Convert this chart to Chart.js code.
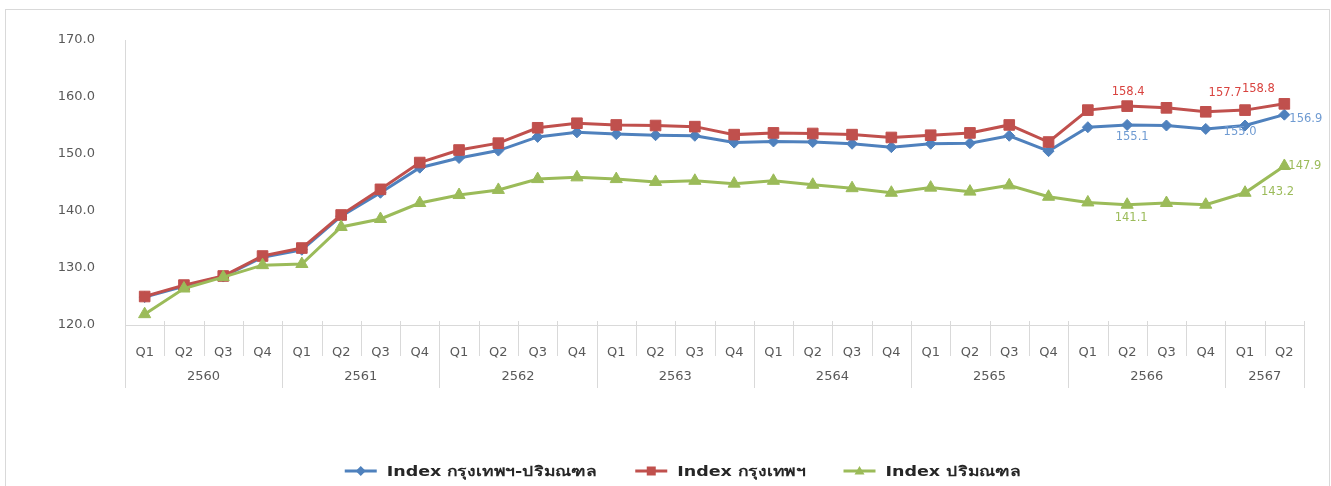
<!DOCTYPE html>
<html>
<head>
<meta charset="utf-8">
<title>Index</title>
<script src="https://cdn.jsdelivr.net/npm/chart.js@4.4.1/dist/chart.umd.min.js"></script>
<style>
    html, body { margin: 0; padding: 0; background: #fff; }
    #wrap { position: relative; width: 1331px; height: 486px; overflow: hidden; }
</style>
</head>
<body>
<div id="wrap"><canvas id="indexChart" width="1331" height="486"></canvas></div>
<script>
// quarters and year groups on the category axis
const years = ['2560', '2561', '2562', '2563', '2564', '2565', '2566', '2567'];
const quartersPerYear = [4, 4, 4, 4, 4, 4, 4, 2];
const quarters = [
    'Q1', 'Q2', 'Q3', 'Q4', 'Q1', 'Q2', 'Q3', 'Q4', 'Q1', 'Q2', 'Q3', 'Q4',
    'Q1', 'Q2', 'Q3', 'Q4', 'Q1', 'Q2', 'Q3', 'Q4', 'Q1', 'Q2', 'Q3', 'Q4',
    'Q1', 'Q2', 'Q3', 'Q4', 'Q1', 'Q2',
];
const yTicks = [120, 130, 140, 150, 160, 170];

const indexBkkVicinity = [
    124.9, 126.8, 128.5, 131.9, 133.2, 139.1, 143.2, 147.6, 149.3, 150.6,
    153.0, 153.8, 153.5, 153.3, 153.2, 152.0, 152.2, 152.1, 151.8, 151.2,
    151.8, 151.9, 153.2, 150.5, 154.7, 155.1, 155.0, 154.4, 155.0, 156.9,
];
const indexBkk = [
    125.0, 127.0, 128.6, 132.1, 133.5, 139.3, 143.8, 148.5, 150.7, 151.9,
    154.6, 155.4, 155.1, 155.0, 154.8, 153.4, 153.7, 153.6, 153.4, 152.9,
    153.3, 153.7, 155.1, 152.1, 157.7, 158.4, 158.1, 157.4, 157.7, 158.8,
];
const indexVicinity = [
    121.9, 126.4, 128.4, 130.5, 130.7, 137.2, 138.6, 141.4, 142.8, 143.7,
    145.6, 145.9, 145.6, 145.1, 145.3, 144.8, 145.3, 144.6, 144.0, 143.2,
    144.1, 143.4, 144.5, 142.5, 141.5, 141.1, 141.4, 141.1, 143.2, 147.9,
];
// points that carry a value label
const labeledPoints = [25, 28, 29];

const FONT = '"DejaVu Sans", "Liberation Sans", sans-serif';
const AXIS_GREY = '#D9D9D9';
const TEXT_GREY = '#595959';

// label placement per series, keyed by point index: dx/dy from the point, text alignment
const LABEL_STYLE = [
    { color: '#6F9BD2', at: {
        25: { dx: 5, dy: 12, align: 'center' },
        28: { dx: -5, dy: 7, align: 'center' },
        29: { dx: 5, dy: 4, align: 'left' },
    } },
    { color: '#D9433F', at: {
        25: { dx: 1, dy: -14, align: 'center' },
        28: { dx: -20, dy: -17, align: 'center' },
        29: { dx: -26, dy: -15, align: 'center' },
    } },
    { color: '#9BBB59', at: {
        25: { dx: 4, dy: 13, align: 'center' },
        28: { dx: 16, dy: -1, align: 'left' },
        29: { dx: 4, dy: 0, align: 'left' },
    } },
];

function drawMarker(ctx, style, x, y, color, r) {
    ctx.fillStyle = color;
    ctx.beginPath();
    if (style === 'rect') {
        ctx.rect(x - r, y - r, 2 * r, 2 * r);
    } else if (style === 'rectRot') {
        ctx.moveTo(x, y - r);
        ctx.lineTo(x + r, y);
        ctx.lineTo(x, y + r);
        ctx.lineTo(x - r, y);
        ctx.closePath();
    } else {
        ctx.moveTo(x, y - r);
        ctx.lineTo(x + r, y + r * 0.7);
        ctx.lineTo(x - r, y + r * 0.7);
        ctx.closePath();
    }
    ctx.fill();
}

const framePlugin = {
    id: 'frame',
    beforeDraw(chart) {
        const ctx = chart.ctx;
        ctx.save();
        ctx.strokeStyle = AXIS_GREY;
        ctx.lineWidth = 1;
        ctx.strokeRect(5.5, 9.5, 1324, 490);
        ctx.restore();
    },
};

// separators between quarters and years, plus the year row
const yearAxisPlugin = {
    id: 'yearAxis',
    afterDraw(chart) {
        const x = chart.scales.x;
        const ctx = chart.ctx;
        const bottom = chart.chartArea.bottom;
        const step = x.getPixelForValue(1) - x.getPixelForValue(0);

        const yearStarts = [0];
        quartersPerYear.forEach((n, i) => yearStarts.push(yearStarts[i] + n));

        ctx.save();
        ctx.strokeStyle = AXIS_GREY;
        ctx.lineWidth = 1;
        for (let b = 0; b <= quarters.length; b++) {
            const px = Math.round(x.getPixelForValue(b) - step / 2) + 0.5;
            const long = yearStarts.includes(b);
            ctx.beginPath();
            ctx.moveTo(px, bottom - 4);
            ctx.lineTo(px, bottom + (long ? 63 : 31));
            ctx.stroke();
        }

        ctx.fillStyle = TEXT_GREY;
        ctx.font = `13px ${FONT}`;
        ctx.textAlign = 'center';
        ctx.textBaseline = 'middle';
        years.forEach((year, i) => {
            const first = x.getPixelForValue(yearStarts[i]);
            const last = x.getPixelForValue(yearStarts[i + 1] - 1);
            ctx.fillText(year, (first + last) / 2, bottom + 52);
        });
        ctx.restore();
    },
};

const valueLabelPlugin = {
    id: 'valueLabels',
    afterDatasetsDraw(chart) {
        const ctx = chart.ctx;
        ctx.save();
        ctx.font = `11.5px ${FONT}`;
        ctx.textBaseline = 'middle';
        chart.data.datasets.forEach((ds, di) => {
            const meta = chart.getDatasetMeta(di);
            const style = LABEL_STYLE[di];
            labeledPoints.forEach((i) => {
                const pt = meta.data[i];
                const pos = style.at[i];
                ctx.fillStyle = style.color;
                ctx.textAlign = pos.align;
                ctx.fillText(ds.data[i].toFixed(1), pt.x + pos.dx, pt.y + pos.dy);
            });
        });
        ctx.restore();
    },
};

// legend row under the axis; text is drawn slightly widened
const legendPlugin = {
    id: 'bottomLegend',
    afterDraw(chart) {
        const ctx = chart.ctx;
        const y = 471;
        const symbolW = 32;
        const gap = 10;
        const spacing = 38;
        const stretch = 1.25;
        ctx.save();
        ctx.font = `bold 14px ${FONT}`;
        ctx.textBaseline = 'middle';
        ctx.textAlign = 'left';

        const items = chart.data.datasets.map((ds) => {
            const tw = ctx.measureText(ds.label).width * stretch;
            return { ds, tw, w: symbolW + gap + tw };
        });
        const total = items.reduce((s, it) => s + it.w, 0) + spacing * (items.length - 1);
        let x = 683 - total / 2;

        items.forEach(({ ds, w }) => {
            ctx.strokeStyle = ds.borderColor;
            ctx.lineWidth = 3;
            ctx.beginPath();
            ctx.moveTo(x, y);
            ctx.lineTo(x + symbolW, y);
            ctx.stroke();
            drawMarker(ctx, ds.pointStyle, x + symbolW / 2, y, ds.borderColor, ds.pointStyle === 'rect' ? 4.5 : 5);
            ctx.save();
            ctx.translate(x + symbolW + gap, y + 1);
            ctx.scale(stretch, 1);
            ctx.fillStyle = '#262626';
            ctx.fillText(ds.label, 0, 0);
            ctx.restore();
            x += w + spacing;
        });
        ctx.restore();
    },
};

function series(label, data, color, pointStyle, radius, order) {
    return {
        label, data, order, pointStyle,
        borderColor: color,
        backgroundColor: color,
        pointBackgroundColor: color,
        pointBorderColor: color,
        pointBorderWidth: 1,
        pointRadius: radius,
        borderWidth: 3,
        tension: 0,
    };
}

new Chart(document.getElementById('indexChart'), {
    type: 'line',
    data: {
        labels: quarters,
        datasets: [
            series('Index กรุงเทพฯ-ปริมณฑล', indexBkkVicinity, '#4F81BD', 'rectRot', 5.5, 3),
            series('Index กรุงเทพฯ', indexBkk, '#C0504D', 'rect', 7.5, 2),
            series('Index ปริมณฑล', indexVicinity, '#9BBB59', 'triangle', 7, 1),
        ],
    },
    options: {
        responsive: false,
        animation: false,
        devicePixelRatio: 1,
        layout: { padding: { top: 40, right: 27, bottom: 0, left: 0 } },
        plugins: {
            legend: { display: false },
            tooltip: { enabled: false },
        },
        scales: {
            x: {
                type: 'category',
                offset: true,
                grid: { display: false },
                border: { display: true, color: AXIS_GREY, width: 1 },
                ticks: {
                    color: TEXT_GREY,
                    font: { family: FONT, size: 13 },
                    padding: 12,
                    maxRotation: 0,
                    autoSkip: false,
                },
                afterFit(scale) { scale.height = 161; },
            },
            y: {
                min: 120,
                max: 170,
                grid: { display: false },
                border: { display: true, color: AXIS_GREY, width: 1 },
                ticks: {
                    color: TEXT_GREY,
                    font: { family: FONT, size: 13 },
                    padding: 22,
                    callback: (v) => Number(v).toFixed(1),
                },
                afterBuildTicks(scale) { scale.ticks = yTicks.map((v) => ({ value: v })); },
                afterFit(scale) { scale.width = 125; },
            },
        },
    },
    plugins: [framePlugin, yearAxisPlugin, valueLabelPlugin, legendPlugin],
});
</script>
</body>
</html>
